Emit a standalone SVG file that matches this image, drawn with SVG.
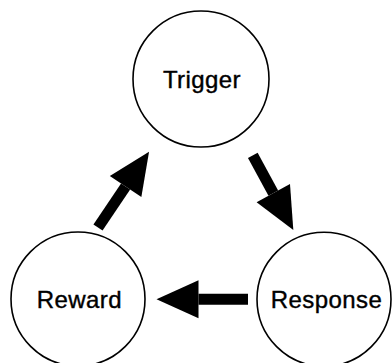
<svg xmlns="http://www.w3.org/2000/svg" width="392" height="363" viewBox="0 0 392 363">
  <style>
    .node circle { fill: #ffffff; stroke: #000000; stroke-width: 1.6; }
    .node text { font-family: "Liberation Sans", Arial, Helvetica, sans-serif; font-size: 24px; letter-spacing: 0.4px; fill: #000000; stroke: #000000; stroke-width: 0.4; text-anchor: middle; }
    .conn line { stroke: #000000; stroke-width: 11; stroke-linecap: butt; marker-end: url(#ah); }
  </style>
  <defs>
    <marker id="ah" markerUnits="userSpaceOnUse" markerWidth="43" markerHeight="40" refX="0" refY="19" orient="auto" overflow="visible">
      <path d="M0,0 L42,19 L0,38 Z" fill="#000000"/>
    </marker>
  </defs>
  <rect width="392" height="363" fill="#ffffff"/>
  <g id="node-trigger" class="node">
    <circle cx="201" cy="79" r="68"/>
    <text x="201.9" y="88">Trigger</text>
  </g>
  <g id="node-reward" class="node">
    <circle cx="78" cy="299" r="67"/>
    <text x="79.4" y="308">Reward</text>
  </g>
  <g id="node-response" class="node">
    <circle cx="324" cy="299.3" r="67"/>
    <text x="326.5" y="308">Response</text>
  </g>
  <g id="connectors" class="conn">
    <line x1="98" y1="227.5" x2="125.6" y2="186.5"/>
    <line x1="252.8" y1="155.3" x2="273.3" y2="193.1"/>
    <line x1="248" y1="299.3" x2="198.5" y2="299.3"/>
  </g>
</svg>
